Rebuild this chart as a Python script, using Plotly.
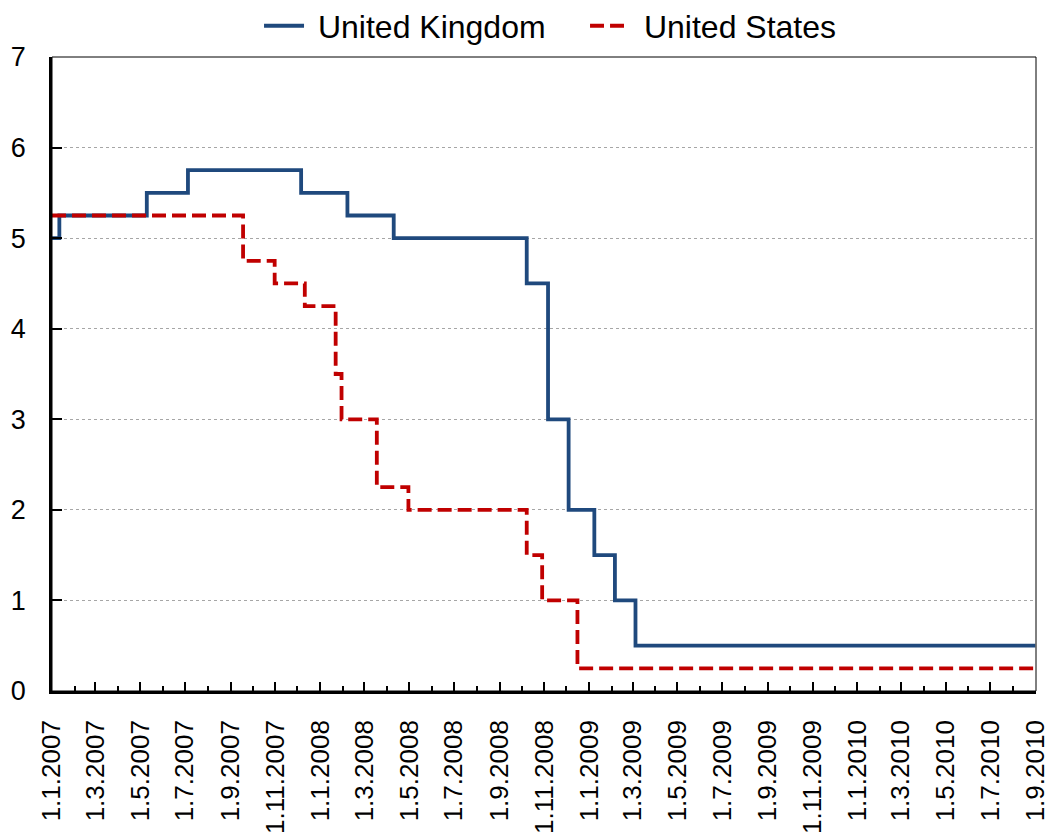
import plotly.graph_objects as go

# Policy rate change dates and levels (step series)
uk_dates = ["2007-01-01", "2007-01-11", "2007-05-10", "2007-07-05", "2007-12-06",
            "2008-02-07", "2008-04-10", "2008-10-08", "2008-11-06", "2008-12-04",
            "2009-01-08", "2009-02-05", "2009-03-05", "2010-08-31"]
uk_rates = [5.00, 5.25, 5.50, 5.75, 5.50, 5.25, 5.00, 4.50, 3.00, 2.00, 1.50, 1.00, 0.50, 0.50]

us_dates = ["2007-01-01", "2007-09-18", "2007-10-31", "2007-12-11", "2008-01-22",
            "2008-01-30", "2008-03-18", "2008-04-30", "2008-10-08", "2008-10-29",
            "2008-12-16", "2010-08-31"]
us_rates = [5.25, 4.75, 4.50, 4.25, 3.50, 3.00, 2.25, 2.00, 1.50, 1.00, 0.25, 0.25]

y_ticks = [0, 1, 2, 3, 4, 5, 6, 7]
x_start, x_end = "2007-01-01", "2010-09-01"

FONT = "Liberation Sans, Arial, sans-serif"

fig = go.Figure()
fig.add_trace(go.Scatter(
    x=uk_dates, y=uk_rates, name=" United Kingdom", mode="lines",
    line=dict(color="#1F497D", width=3.8, shape="hv"),
))
fig.add_trace(go.Scatter(
    x=us_dates, y=us_rates, name=" United States", mode="lines",
    line=dict(color="#C00000", width=3.8, shape="hv", dash="14px,6px"),
))

# page body has an 8px margin, so the figure is drawn 8px in from the window edge
fig.update_layout(
    width=1049, height=831,
    margin=dict(l=44, r=21, t=49, b=148, autoexpand=False),
    paper_bgcolor="white", plot_bgcolor="white",
    font=dict(family=FONT, color="black", size=26),
    showlegend=True,
    legend=dict(orientation="h", x=0.5417, xanchor="center", y=1.049, yanchor="middle",
                font=dict(size=32, family=FONT), itemwidth=40, entrywidth=271,
                bgcolor="rgba(0,0,0,0)"),
    shapes=[dict(type="rect", xref="paper", yref="paper", x0=0, y0=0, x1=1, y1=1,
                 line=dict(color="black", width=1), layer="above")],
)

fig.update_xaxes(
    type="date", range=[x_start, x_end], automargin=False,
    tick0=x_start, dtick="M2", tickformat="%-d.%-m.%Y", tickangle=-90,
    ticks="inside", ticklen=9, tickwidth=1.5, tickcolor="black",
    minor=dict(dtick="M1", ticks="inside", ticklen=5, tickwidth=1.5, tickcolor="black", showgrid=False),
    showline=True, linecolor="black", linewidth=2.5,
    showgrid=False, zeroline=False,
    tickfont=dict(size=26, family=FONT),
    ticklabelstandoff=16,
)
fig.update_yaxes(
    range=[0, 7], tickvals=y_ticks, automargin=False,
    ticks="inside", ticklen=10, tickwidth=1.5, tickcolor="black",
    showline=True, linecolor="black", linewidth=2.5,
    showgrid=True, gridcolor="#A6A6A6", gridwidth=1, griddash="dot",
    zeroline=False,
    tickfont=dict(size=27, family=FONT),
    ticklabelstandoff=18,
)

fig.write_html("out.html")
